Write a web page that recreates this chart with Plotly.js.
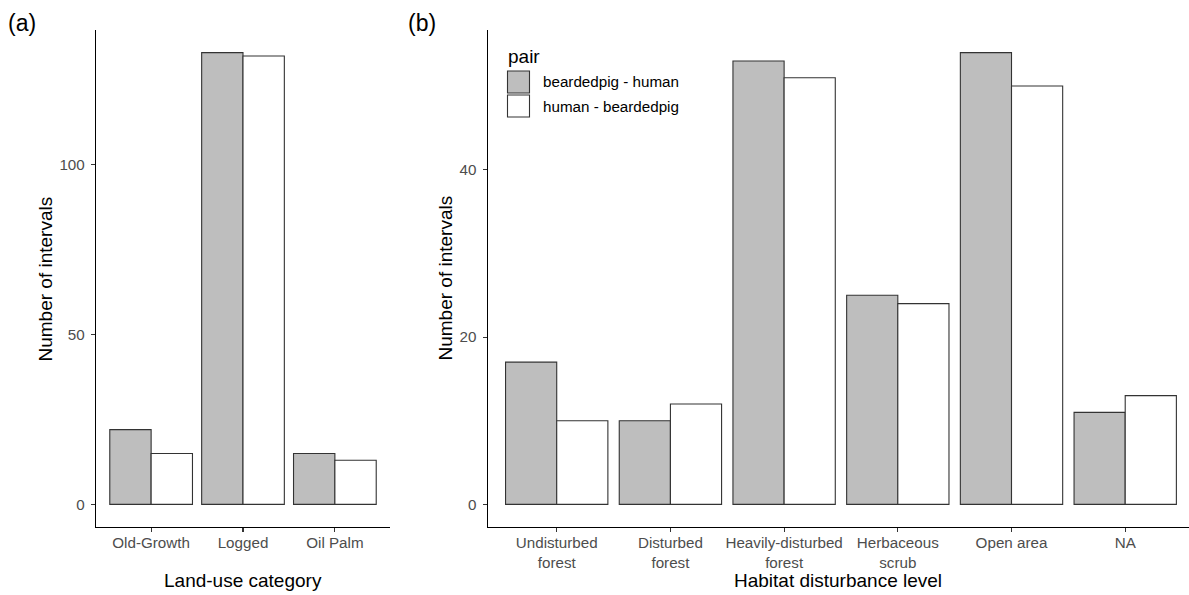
<!DOCTYPE html>
<html>
<head>
<meta charset="utf-8">
<script src="https://cdn.plot.ly/plotly-3.0.1.min.js"></script>
<style>
  html, body { margin: 0; padding: 0; background: #fff; }
  #chart { width: 1189px; height: 595px; }
</style>
</head>
<body>
<div id="chart"></div>
<script>
// Interval counts between bearded pig and human detections
const landUseCategories = ['Old-Growth', 'Logged', 'Oil Palm'];
const landUsePigHuman = [22, 133, 15];
const landUseHumanPig = [15, 132, 13];

const habitatLevels = ['Undisturbed<br>forest', 'Disturbed<br>forest', 'Heavily-disturbed<br>forest',
                       'Herbaceous<br>scrub', 'Open area', 'NA'];
const habitatPigHuman = [17, 10, 53, 25, 54, 11];
const habitatHumanPig = [10, 12, 51, 24, 50, 13];

const pairNames = ['beardedpig - human', 'human - beardedpig'];
const pairFills = ['#BEBEBE', '#FFFFFF'];

const W = 1189, H = 595;
const FONT = 'Liberation Sans, Arial, Helvetica, sans-serif';
const TICK_SIZE = 15.2, TITLE_SIZE = 19, TAG_SIZE = 23;
const px = v => v / W;
const py = v => 1 - v / H;

const outline = { color: '#333333', width: 1.1 };

function barTrace(x, y, i, xa, ya) {
  return {
    type: 'bar', x: x, y: y, name: pairNames[i],
    marker: { color: pairFills[i], line: outline },
    xaxis: xa, yaxis: ya, showlegend: false, hoverinfo: 'x+y+name'
  };
}

const traces = [
  barTrace(landUseCategories, landUsePigHuman, 0, 'x', 'y'),
  barTrace(landUseCategories, landUseHumanPig, 1, 'x', 'y'),
  barTrace(habitatLevels, habitatPigHuman, 0, 'x2', 'y2'),
  barTrace(habitatLevels, habitatHumanPig, 1, 'x2', 'y2')
];

const yDomain = [py(527), py(30)];

const xBase = {
  type: 'category', showgrid: false, zeroline: false,
  showline: true, linecolor: '#000000', linewidth: 1.2,
  ticks: 'outside', ticklen: 4, tickwidth: 1.1, tickcolor: '#333333',
  tickfont: { family: FONT, size: TICK_SIZE, color: '#4D4D4D' },
  ticklabelstandoff: -2, fixedrange: true
};
const yBase = {
  showgrid: false, zeroline: false,
  showline: true, linecolor: '#000000', linewidth: 1.2,
  ticks: 'outside', ticklen: 4, tickwidth: 1.1, tickcolor: '#333333',
  tickfont: { family: FONT, size: TICK_SIZE, color: '#4D4D4D' },
  ticklabelstandoff: 3, fixedrange: true
};

function label(text, x, y, size, opts) {
  return Object.assign({
    text: text, xref: 'paper', yref: 'paper', x: x, y: y,
    showarrow: false, font: { family: FONT, size: size, color: '#000000' },
    xanchor: 'center', yanchor: 'middle'
  }, opts || {});
}

const annotations = [
  label('(a)', px(6), py(23), TAG_SIZE, { xanchor: 'left' }),
  label('(b)', px(406), py(23), TAG_SIZE, { xanchor: 'left' }),
  label('Land-use category', px(243), py(580), TITLE_SIZE),
  label('Habitat disturbance level', px(838), py(580), TITLE_SIZE),
  label('Number of intervals', px(45), py(278.5), TITLE_SIZE, { textangle: -90 }),
  label('Number of intervals', px(445), py(278.5), TITLE_SIZE, { textangle: -90 }),
  label('pair', px(506), py(57), TITLE_SIZE, { xanchor: 'left' })
];

// legend keys for the pair series
const shapes = [];
const keyTops = [71, 95];
pairNames.forEach((name, i) => {
  shapes.push({
    type: 'rect', xref: 'paper', yref: 'paper',
    x0: px(507.5), x1: px(529.5), y0: py(keyTops[i] + 22), y1: py(keyTops[i]),
    fillcolor: pairFills[i], line: outline
  });
  annotations.push(label(name, px(540.5), py(keyTops[i] + 11), TICK_SIZE, { xanchor: 'left' }));
});

const layout = {
  width: W, height: H,
  margin: { l: 0, r: 0, t: 0, b: 0, pad: 0 },
  paper_bgcolor: '#FFFFFF', plot_bgcolor: '#FFFFFF',
  barmode: 'group', bargap: 0.1, bargroupgap: 0,
  showlegend: false,
  font: { family: FONT },
  xaxis: Object.assign({}, xBase, { domain: [px(96), px(390)], range: [-0.6, 2.6], anchor: 'y' }),
  yaxis: Object.assign({}, yBase, { domain: yDomain, range: [-6.65, 139.65], tickvals: [0, 50, 100], anchor: 'x' }),
  xaxis2: Object.assign({}, xBase, { domain: [px(487.7), 1], range: [-0.607, 5.561], anchor: 'y2' }),
  yaxis2: Object.assign({}, yBase, { domain: yDomain, range: [-2.7, 56.7], tickvals: [0, 20, 40], anchor: 'x2' }),
  annotations: annotations,
  shapes: shapes
};

Plotly.newPlot('chart', traces, layout, { displayModeBar: false, staticPlot: true });
</script>
</body>
</html>
